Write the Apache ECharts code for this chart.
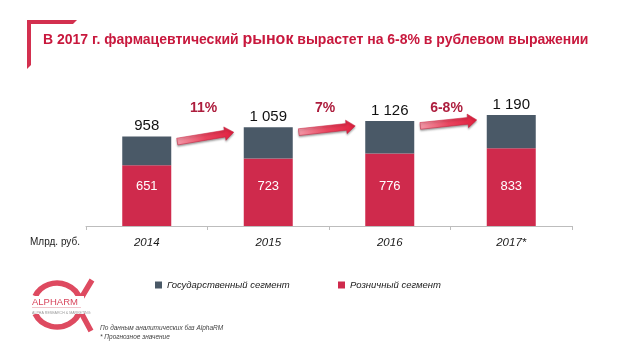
<!DOCTYPE html>
<html lang="ru">
<head>
<meta charset="utf-8" />
<title>Фармацевтический рынок</title>
<script src="https://cdn.jsdelivr.net/npm/echarts@6/dist/echarts.min.js"></script>
<style>
	html,body{margin:0;padding:0;background:#fff;}
	#main{width:630px;height:354px;}
</style>
</head>
<body>
<div id="main"></div>
<script>
	// данные
	var years = ['2014', '2015', '2016', '2017*'];
	var retail = [651, 723, 776, 833];
	var government = [307, 336, 350, 357];
	var totals = [958, 1059, 1126, 1190];
	var growth = ['11%', '7%', '6-8%'];
	var seriesNames = ['Государственный сегмент', 'Розничный сегмент'];

	var FONT = 'Liberation Sans, Arial, sans-serif';
	var RED = '#cf2a4c', GRAY = '#4a5967', LOGO = '#de4a60';
	var BAR_W = 49;

	var myChart = echarts.init(document.getElementById('main'));

	// стрелки роста между столбцами
	function renderArrow(params, api) {
		var i = api.value(0);
		var p0 = api.coord([i, api.value(1)]);
		var p1 = api.coord([i + 1, api.value(2)]);
		var x0 = p0[0] + BAR_W / 2 + 6, y0 = p0[1] + 5;
		var x1 = p1[0] - BAR_W / 2 - 10, y1 = p1[1] + 5;
		var dx = x1 - x0, dy = y1 - y0, len = Math.sqrt(dx * dx + dy * dy);
		var ux = dx / len, uy = dy / len, nx = -uy, ny = ux;
		var w = 3.4, hw = 6.8, hl = 9;
		var bx = x1 - ux * hl, by = y1 - uy * hl;
		var pts = [
			[x0 + nx * w, y0 + ny * w], [bx + nx * w, by + ny * w], [bx + nx * hw, by + ny * hw],
			[x1, y1],
			[bx - nx * hw, by - ny * hw], [bx - nx * w, by - ny * w], [x0 - nx * w, y0 - ny * w]
		];
		var ty = api.coord([i, 1200])[1] - 6;
		return {
			type: 'group',
			children: [{
				type: 'polygon',
				shape: { points: pts },
				style: {
					fill: new echarts.graphic.LinearGradient(0, 0, 1, 0, [
						{ offset: 0, color: '#f39aa9' }, { offset: 0.5, color: '#e8455f' }, { offset: 1, color: '#e0203f' }
					]),
					stroke: '#c41a38', lineWidth: 0.5,
					shadowBlur: 2, shadowColor: 'rgba(0,0,0,0.35)', shadowOffsetY: 1.5
				}
			}, {
				type: 'text',
				style: {
					text: growth[params.dataIndex],
					x: (p0[0] + p1[0]) / 2 - 4, y: ty,
					align: 'center', verticalAlign: 'middle',
					fontFamily: FONT, fontWeight: 'bold', fontSize: 14, fill: '#ad1d3d'
				}
			}]
		};
	}

	var legendText = { fontStyle: 'italic', fontSize: 9.5, color: '#222', fontFamily: FONT };

	var option = {
		backgroundColor: '#fff',
		animation: false,
		title: {
			left: 43, top: 32, padding: 0,
			text: '{a|В 2017 г. фармацевтический }{b|рынок}{a| вырастет на 6-8% в рублевом выражении}',
			textStyle: {
				rich: {
					a: { fontSize: 14, fontWeight: 'bold', color: '#c8183d', fontFamily: FONT },
					b: { fontSize: 16, fontWeight: 'bold', color: '#c8183d', fontFamily: FONT }
				}
			}
		},
		legend: [
			{ data: [seriesNames[0]], left: 155, top: 280, padding: 0, icon: 'rect', itemWidth: 7, itemHeight: 7, textStyle: legendText },
			{ data: [seriesNames[1]], left: 338, top: 280, padding: 0, icon: 'rect', itemWidth: 7, itemHeight: 7, textStyle: legendText }
		],
		grid: { left: 86, right: 58, top: 114, bottom: 128 },
		xAxis: {
			type: 'category',
			data: years,
			axisLine: { lineStyle: { color: '#bdbdbd', width: 1 } },
			axisTick: { show: true, length: 4, lineStyle: { color: '#bdbdbd' } },
			axisLabel: { fontStyle: 'italic', fontSize: 11.5, color: '#1a1a1a', margin: 11, fontFamily: FONT }
		},
		yAxis: { type: 'value', min: 0, max: 1200, show: false, splitLine: { show: false } },
		series: [{
			name: seriesNames[1],
			type: 'bar',
			stack: 'total',
			barWidth: BAR_W,
			itemStyle: { color: RED },
			label: {
				show: true, position: 'insideBottom', distance: 33,
				color: '#fff', fontSize: 13, fontFamily: FONT
			},
			data: retail
		}, {
			name: seriesNames[0],
			type: 'bar',
			stack: 'total',
			barWidth: BAR_W,
			itemStyle: { color: GRAY },
			label: {
				show: true, position: 'top', distance: 3,
				color: '#111', fontSize: 15, fontFamily: FONT,
				formatter: function (p) { return String(totals[p.dataIndex]).replace(/\B(?=(\d{3})+$)/, ' '); }
			},
			data: government
		}, {
			type: 'custom',
			silent: true,
			z: 5,
			renderItem: renderArrow,
			data: growth.map(function (g, i) { return [i, totals[i], totals[i + 1]]; })
		}],
		graphic: [
			// уголок у заголовка
			{ type: 'polygon', shape: { points: [[27, 20], [77, 20], [73, 24], [31, 24], [31, 65], [27, 69]] }, style: { fill: '#d3304f' } },
			{ type: 'text', left: 30, top: 237, style: { text: 'Млрд. руб.', fontSize: 10, fill: '#222', fontFamily: FONT } },
			// сноски
			{ type: 'text', left: 100, top: 325, style: { text: 'По данным аналитических баз AlphaRM', fontSize: 6.5, fontStyle: 'italic', fill: '#444', fontFamily: FONT } },
			{ type: 'text', left: 100, top: 334, style: { text: '* Прогнозное значение', fontSize: 6.5, fontStyle: 'italic', fill: '#444', fontFamily: FONT } },
			// логотип
			{ type: 'arc', shape: { cx: 57, cy: 305, r: 22, startAngle: Math.PI + 0.42, endAngle: 2 * Math.PI - 0.25 }, scaleX: 1.08, originX: 57, originY: 305, style: { stroke: LOGO, lineWidth: 5.5, fill: null } },
			{ type: 'arc', shape: { cx: 57, cy: 305, r: 22, startAngle: 0.25, endAngle: Math.PI - 0.42 }, scaleX: 1.08, originX: 57, originY: 305, style: { stroke: LOGO, lineWidth: 5.5, fill: null } },
			{ type: 'polyline', shape: { points: [[92, 280], [77, 305], [91, 331]] }, style: { stroke: LOGO, lineWidth: 5.5, fill: null } },
			{ type: 'rect', shape: { x: 30, y: 296, width: 54, height: 18 }, style: { fill: '#fff' } },
			{ type: 'text', left: 32, top: 297, style: { text: 'ALPHARM', fontSize: 9.5, fill: '#d8465d', fontFamily: FONT } },
			{ type: 'line', shape: { x1: 32, y1: 307.5, x2: 81, y2: 307.5 }, style: { stroke: '#e8a0aa', lineWidth: 0.6 } },
			{ type: 'text', left: 32, top: 311, style: { text: 'ALPHA RESEARCH & MARKETING', fontSize: 3.6, fill: '#999', fontFamily: FONT } }
		]
	};

	myChart.setOption(option);
</script>
</body>
</html>
